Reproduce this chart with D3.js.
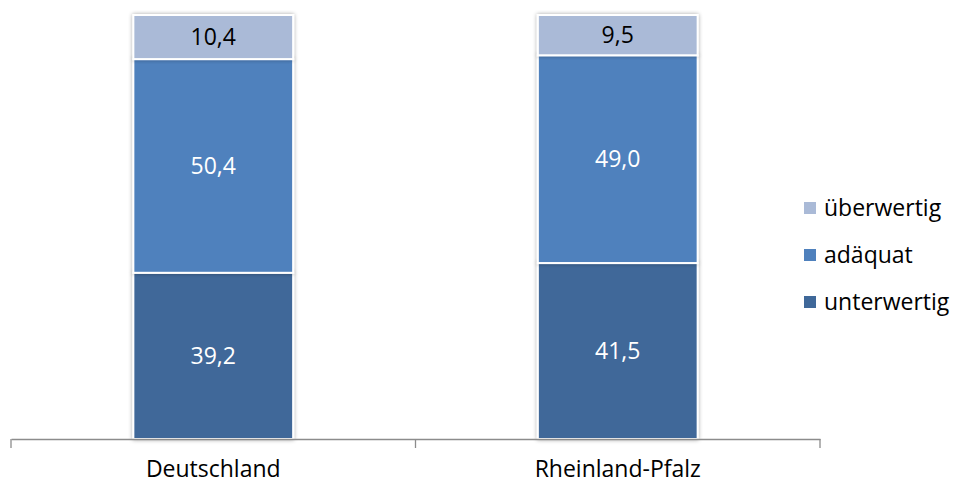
<!DOCTYPE html>
<html>
<head>
<meta charset="utf-8">
<script src="https://cdn.jsdelivr.net/npm/d3@7"></script>
<style>
  body { margin: 0; background: #fff; }
  svg { display: block; font-family: "Open Sans", "Liberation Sans", sans-serif; }
</style>
</head>
<body>
<div id="chart"></div>
<script>
const categories = ["Deutschland", "Rheinland-Pfalz"];
const seriesNames = ["unterwertig", "adäquat", "überwertig"];
const unterwertig = [39.2, 41.5];
const adaequat = [50.4, 49.0];
const ueberwertig = [10.4, 9.5];

const colors = {
  "unterwertig": "#3f6899",
  "adäquat": "#4f81bd",
  "überwertig": "#aabad7",
};
const labelColors = {
  "unterwertig": "#ffffff",
  "adäquat": "#ffffff",
  "überwertig": "#000000",
};

const width = 955;
const height = 485;
const margin = { top: 15, right: 135, bottom: 46, left: 11 };
const innerW = width - margin.left - margin.right;
const innerH = height - margin.top - margin.bottom;

const rows = categories.map((c, i) => ({
  category: c,
  "unterwertig": unterwertig[i],
  "adäquat": adaequat[i],
  "überwertig": ueberwertig[i],
}));

const stacked = d3.stack().keys(seriesNames)(rows);

const x = d3.scaleBand().domain(categories).range([0, innerW]).paddingInner(0.605).paddingOuter(0.3025);
const y = d3.scaleLinear().domain([0, 100]).range([innerH, 0]);
const fmt = (v) => v.toFixed(1).replace(".", ",");

const svg = d3.select("#chart").append("svg")
  .attr("width", width)
  .attr("height", height);

const defs = svg.append("defs");
const shadow = defs.append("filter").attr("id", "shadow")
  .attr("x", "-10%").attr("y", "-10%").attr("width", "120%").attr("height", "120%");
shadow.append("feGaussianBlur").attr("in", "SourceAlpha").attr("stdDeviation", 2);
shadow.append("feOffset").attr("dx", 0).attr("dy", 0).attr("result", "blur");
shadow.append("feComponentTransfer").append("feFuncA").attr("type", "linear").attr("slope", 0.35);
const merge = shadow.append("feMerge");
merge.append("feMergeNode");
merge.append("feMergeNode").attr("in", "SourceGraphic");

const g = svg.append("g").attr("transform", `translate(${margin.left},${margin.top})`);

// bars
const layers = g.selectAll(".layer")
  .data(stacked)
  .enter()
  .append("g")
  .attr("class", "layer");

layers.selectAll("rect")
  .data((s) => s.map((d) => ({ key: s.key, d })))
  .enter()
  .append("rect")
  .attr("x", (p) => x(p.d.data.category))
  .attr("y", (p) => y(p.d[1]))
  .attr("width", x.bandwidth())
  .attr("height", (p) => y(p.d[0]) - y(p.d[1]))
  .attr("fill", (p) => colors[p.key])
  .attr("stroke", "#ffffff")
  .attr("stroke-width", 2)
  .attr("filter", "url(#shadow)");

layers.selectAll("text")
  .data((s) => s.map((d) => ({ key: s.key, d })))
  .enter()
  .append("text")
  .attr("x", (p) => x(p.d.data.category) + x.bandwidth() / 2)
  .attr("y", (p) => (y(p.d[0]) + y(p.d[1])) / 2)
  .attr("dy", "0.35em")
  .attr("text-anchor", "middle")
  .attr("font-size", 23)
  .attr("fill", (p) => labelColors[p.key])
  .text((p) => fmt(p.d[1] - p.d[0]));

// x axis
const xAxis = d3.axisBottom(x).tickSize(0).tickPadding(22);
const axisG = g.append("g")
  .attr("transform", `translate(0,${innerH})`)
  .call(xAxis);
axisG.select(".domain").attr("stroke", "#8c8c8c").attr("stroke-width", 1.3);
axisG.selectAll("text").attr("font-size", 23).attr("fill", "#000")
  .attr("font-family", "\"Open Sans\", \"Liberation Sans\", sans-serif");

// boundary ticks between categories
const boundaries = [0, ...categories.slice(1).map((c) => x(c) - x.step() * x.paddingInner() / 2), innerW];
axisG.selectAll(".bound")
  .data(boundaries)
  .enter()
  .append("line")
  .attr("class", "bound")
  .attr("x1", (d) => d)
  .attr("x2", (d) => d)
  .attr("y1", 0)
  .attr("y2", 9)
  .attr("stroke", "#8c8c8c")
  .attr("stroke-width", 1.3);

// legend
const legendItems = seriesNames.slice().reverse();
const legendY = d3.scalePoint().domain(legendItems).range([208, 302]);
const legend = svg.append("g");
const li = legend.selectAll(".li")
  .data(legendItems)
  .enter()
  .append("g")
  .attr("transform", (d) => `translate(804,${legendY(d)})`);
li.append("rect")
  .attr("x", 0)
  .attr("y", -6)
  .attr("width", 12)
  .attr("height", 12)
  .attr("fill", (d) => colors[d]);
li.append("text")
  .attr("x", 20)
  .attr("dy", "0.35em")
  .attr("font-size", 23)
  .attr("fill", "#000")
  .text((d) => d);
</script>
</body>
</html>
